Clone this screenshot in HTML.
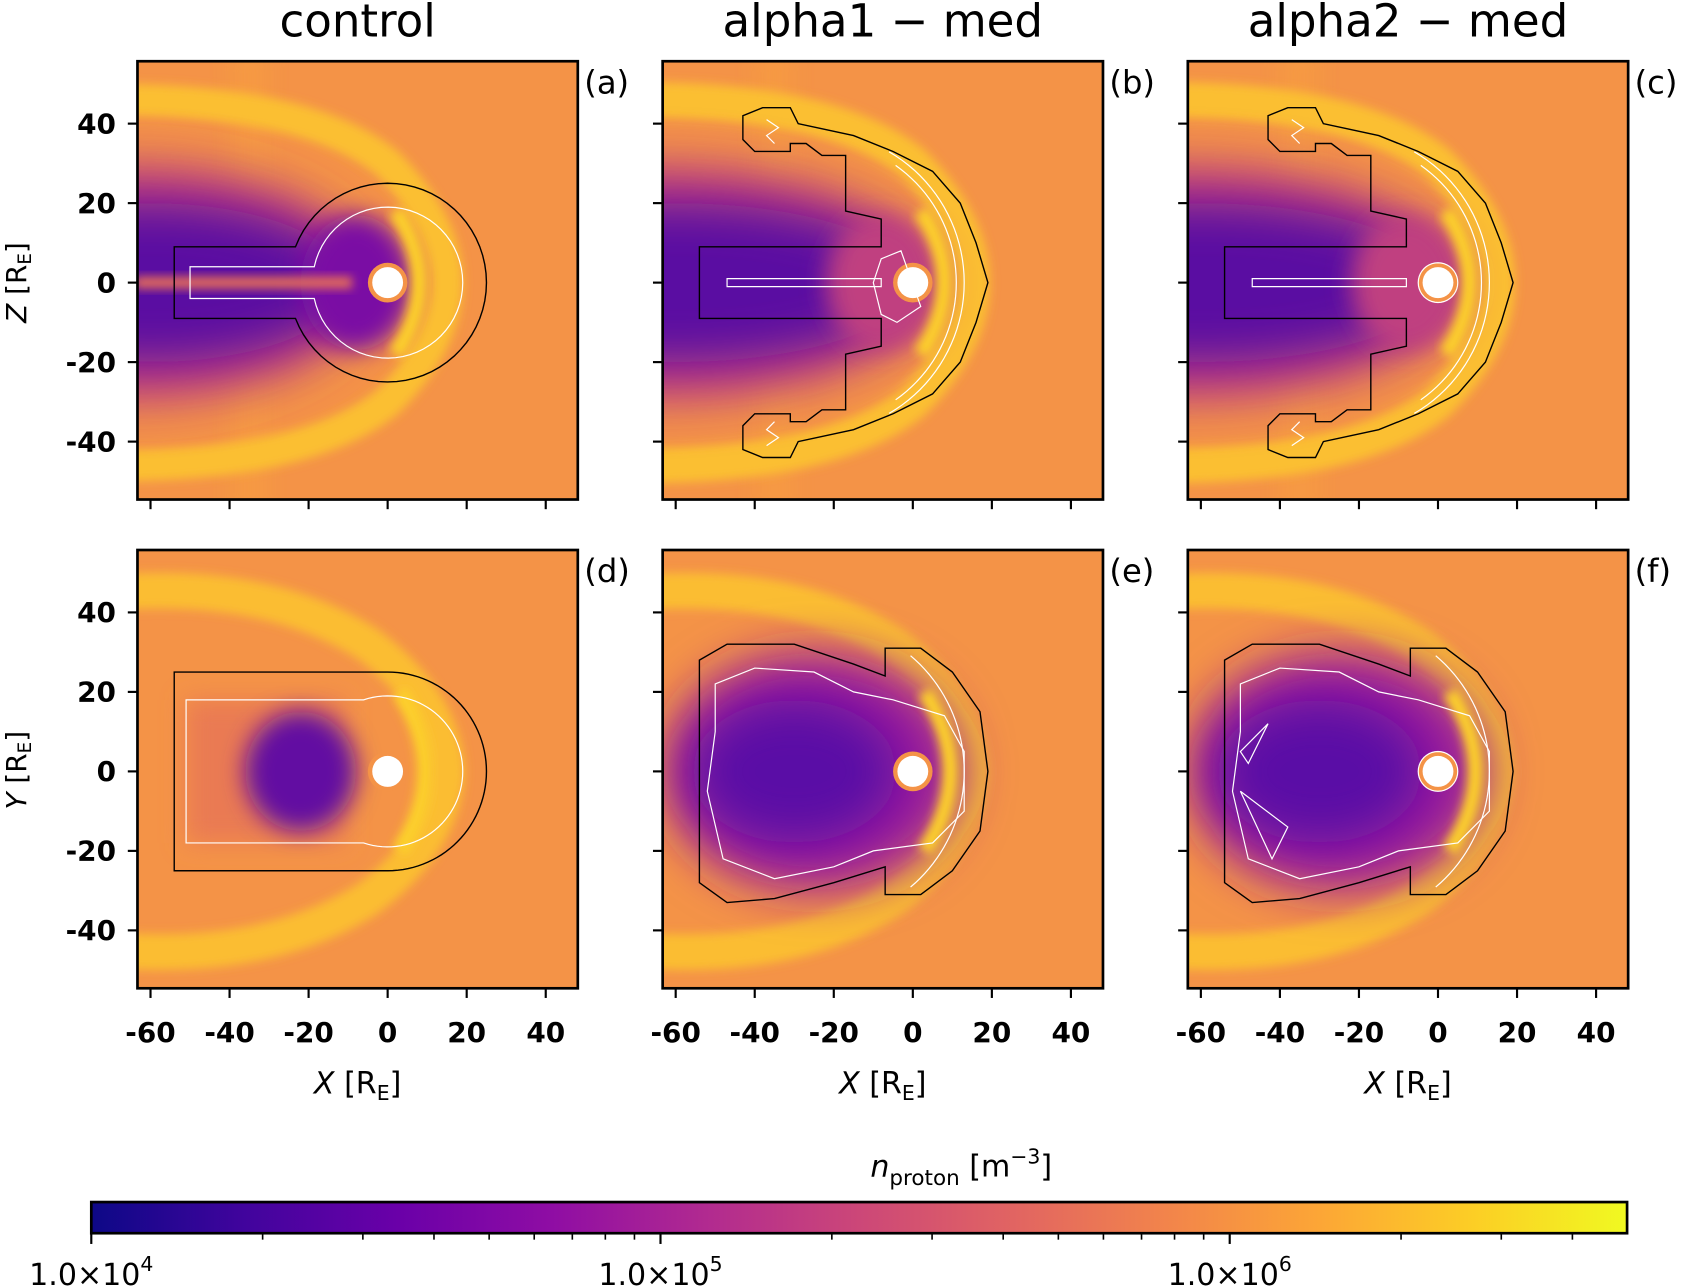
<!DOCTYPE html>
<html><head><meta charset="utf-8"><style>
html,body{margin:0;padding:0;background:#fff;}
svg{display:block;font-family:"DejaVu Sans","Liberation Sans",sans-serif;}
</style></head><body>
<svg id="fig" width="1684" height="1288" viewBox="0 0 1568 1199" preserveAspectRatio="none" xmlns="http://www.w3.org/2000/svg">
<defs>
<filter id="b1" x="-50%" y="-50%" width="200%" height="200%"><feGaussianBlur stdDeviation="1.2"/></filter>
<filter id="b3" x="-50%" y="-50%" width="200%" height="200%"><feGaussianBlur stdDeviation="3"/></filter>
<filter id="b6" x="-50%" y="-50%" width="200%" height="200%"><feGaussianBlur stdDeviation="6"/></filter>
<linearGradient id="plasma" x1="0" x2="1" y1="0" y2="0">
<stop offset="0" stop-color="#0d0887"/><stop offset="0.1" stop-color="#41049d"/><stop offset="0.2" stop-color="#6a00a8"/><stop offset="0.3" stop-color="#8f0da4"/><stop offset="0.4" stop-color="#b12a90"/><stop offset="0.5" stop-color="#cc4778"/><stop offset="0.6" stop-color="#e16462"/><stop offset="0.7" stop-color="#f2844b"/><stop offset="0.8" stop-color="#fca636"/><stop offset="0.9" stop-color="#fcce25"/><stop offset="1" stop-color="#f0f921"/>
</linearGradient>
</defs>
</svg>
<script>
const xTicks=[-60,-40,-20,0,20,40];
const yTicks=[40,20,0,-20,-40];
const cbarMajor=[4,5,6];
const cbarLabels=["1.0×10","1.0×10","1.0×10"];
const panelTitles=["control","alpha1 − med","alpha2 − med"];
const panelTags=["(a)","(b)","(c)","(d)","(e)","(f)"];
const NS="http://www.w3.org/2000/svg";
const svg=document.getElementById('fig');
function E(tag,attrs,parent){const e=document.createElementNS(NS,tag);for(const k in attrs)e.setAttribute(k,attrs[k]);(parent||svg).appendChild(e);return e;}
const colL=[128,617,1106],rowT=[57,512],PW=410,PH=408;
const XMIN=-63.3,YMAX=55.7,SX=3.68,SY=3.7;
function px(c,x){return colL[c]+(x-XMIN)*SX;}
function py(r,y){return rowT[r]+(YMAX-y)*SY;}
function pts(a){return a.map(p=>p[0]+','+p[1]).join(' ');}
function capsule(xl,hw,R){const xs=-Math.sqrt(R*R-hw*hw);const a0=Math.asin(hw/R);const p=[[xl,hw],[xs,hw]];for(let i=0;i<=60;i++){const t=Math.PI-a0-(Math.PI*2-2*a0)*i/60;p.push([R*Math.cos(t),R*Math.sin(t)]);}p.push([xl,-hw]);return p;}
function arcPts(cx,R,t0,t1){const p=[];for(let i=0;i<=40;i++){const t=(t0+(t1-t0)*i/40)*Math.PI/180;p.push([cx+R*Math.cos(t),R*Math.sin(t)]);}return p;}
function mirror(h){return h.concat(h.slice().reverse().map(p=>[p[0],-p[1]]));}

for(let r=0;r<2;r++)for(let c=0;c<3;c++){
  const i=r*3+c;
  const cp=E('clipPath',{id:'cp'+i});E('rect',{x:colL[c],y:rowT[r],width:PW,height:PH},cp);
  const outer=E('g',{'clip-path':'url(#cp'+i+')'});
  
  
  E('rect',{x:colL[c],y:rowT[r],width:PW,height:PH,fill:'#f49347'},outer);
  const g=E('g',{transform:`translate(${px(c,0)},${py(r,0)}) scale(${SX},${-SY})`},outer);
  if(r===0){
    E('rect',{x:-40,y:-60,width:10,height:120,fill:'#f8a040',opacity:0.5,filter:'url(#b3)'},g);
    E('path',{d:'M -70 46 Q -20 46 0 30 Q 15 15 15 0 Q 15 -15 0 -30 Q -20 -46 -70 -46',fill:'none',stroke:'#fbbf33',"stroke-width":c===0?8:9,filter:'url(#b1)'},g);
    E('ellipse',{cx:-65,cy:0,rx:c===0?60:70,ry:30,fill:'#c0407f',filter:'url(#b6)'},g);
    E('ellipse',{cx:-60,cy:0,rx:c===0?50:60,ry:20,fill:'#5a0aa2',filter:'url(#b6)'},g);
    E('ellipse',{cx:-8,cy:0,rx:14,ry:17,fill:c===0?'#7a10a4':'#c04080',filter:'url(#b3)'},g);
    E('path',{d:'M 2 -18 Q 14 0 2 18',fill:'none',stroke:'#fcd02a','stroke-width':4,filter:'url(#b1)'},g);
    if(c===0)E('rect',{x:-64,y:-1.5,width:55,height:3,fill:'#e46c5a',filter:'url(#b1)'},g);
  }else{
    E('path',{d:'M -70 45 Q -30 48 -5 32 Q 14 18 15 0 Q 14 -18 -5 -32 Q -30 -48 -70 -45',fill:'none',stroke:'#fbbd33','stroke-width':9,filter:'url(#b1)'},g);
    if(c===0){
      E('rect',{x:-51,y:-18,width:40,height:36,fill:'#ea7a52',filter:'url(#b3)'},g);
      E('ellipse',{cx:-22,cy:0,rx:14,ry:15,fill:'#6210a2',filter:'url(#b3)'},g);
    }else{
      E('ellipse',{cx:-25,cy:0,rx:38,ry:30,fill:'#9a1c9c',filter:'url(#b6)'},g);
      E('ellipse',{cx:-30,cy:0,rx:26,ry:18,fill:'#5a0aa6',filter:'url(#b6)'},g);
    }
    E('path',{d:'M 3 -20 Q 16 0 3 20',fill:'none',stroke:'#fcd02a','stroke-width':4,filter:'url(#b1)'},g);
  }
  E('circle',{cx:0,cy:0,r:5,fill:'#f49347'},g);
  const earth=E('circle',{cx:0,cy:0,r:3.9,fill:'#ffffff'},g);
  
  
  const lines=[];
  if(i===0){lines.push(['#000',capsule(-54,9,25)]);lines.push(['#fff',capsule(-50,4,19)]);}
  if(i===3){lines.push(['#000',capsule(-54,25,25)]);lines.push(['#fff',capsule(-51,18,19)]);}
  if(i===1||i===2){
    const h=[[-54,9],[-8,9],[-8,16],[-17,18],[-17,32],[-23,32],[-27,35],[-31,35],[-31,33],[-40,33],[-43,36],[-43,42],[-38,44],[-31,44],[-29,40],[-15,37],[-5,33],[5,28],[12,20],[16,10],[19,0]];
    lines.push(['#000',mirror(h)]);
    lines.push(['#fff',[[-47,1],[-8,1],[-8,-1],[-47,-1]]]);
    lines.push(['#fff',arcPts(-25,38,-60,60),true]);
    lines.push(['#fff',arcPts(-25,36,-55,55),true]);
    lines.push(['#fff',[[-37,41],[-34,39],[-37,37],[-35,35]],true]);
    lines.push(['#fff',[[-37,-41],[-34,-39],[-37,-37],[-35,-35]],true]);
    if(i===2)lines.push(['#fff',arcPts(0,5,0,360)]);
    else lines.push(['#fff',[[-8,-8],[-4,-10],[2,-6],[-3,8],[-8,6],[-10,0]]]);
  }
  if(i===4||i===5){
    lines.push(['#000',[[-54,28],[-47,32],[-30,32],[-15,27],[-7,24],[-7,31],[2,31],[10,25],[17,15],[19,0],[17,-15],[10,-25],[2,-31],[-7,-31],[-7,-24],[-20,-28],[-35,-32],[-47,-33],[-54,-28]]]);
    lines.push(['#fff',[[-50,22],[-40,26],[-25,25],[-15,20],[-5,18],[8,14],[13,5],[13,-10],[5,-18],[-10,-20],[-20,-24],[-35,-27],[-48,-22],[-52,-5],[-50,10]]]);
    lines.push(['#fff',arcPts(-25,38,-50,50),true]);
    if(i===5){lines.push(['#fff',arcPts(0,5,0,360)]);lines.push(['#fff',[[-50,-5],[-42,-22],[-38,-14]]]);lines.push(['#fff',[[-50,5],[-43,12],[-48,2]]]);}
  }
  lines.forEach((L,k)=>{
    const el=E(L[2]?'polyline':'polygon',{points:pts(L[1]),fill:'none',stroke:L[0],'stroke-width':L[0]==='#000'?1.4:1.2,'vector-effect':'non-scaling-stroke'},g);
    
    
  });
  const fr=E('rect',{x:colL[c],y:rowT[r],width:PW,height:PH,fill:'none',stroke:'#000','stroke-width':2.5});
  
  
  const tg=E('text',{x:colL[c]+PW+6,y:rowT[r]+30,'font-size':30});tg.textContent=panelTags[i];
  
  
  yTicks.forEach(v=>{
    E('line',{x1:colL[c],x2:colL[c]-9,y1:py(r,v),y2:py(r,v),stroke:'#000','stroke-width':2});
    if(c===0){const t=E('text',{x:colL[c]-20,y:py(r,v)+9,'font-size':26,'font-weight':'bold','text-anchor':'end'});t.textContent=String(v);
      
      }
  });
  xTicks.forEach(v=>{
    E('line',{x1:px(c,v),x2:px(c,v),y1:rowT[r]+PH,y2:rowT[r]+PH+9,stroke:'#000','stroke-width':2});
    if(r===1){const t=E('text',{x:px(c,v),y:rowT[r]+PH+50,'font-size':26,'font-weight':'bold','text-anchor':'middle'});t.textContent=v;
      
      }
  });
  if(r===1){const t=E('text',{x:colL[c]+PW/2,y:1018,'font-size':28,'text-anchor':'middle'});t.innerHTML='<tspan font-style="italic">X</tspan> [R<tspan font-size="19" dy="6">E</tspan><tspan dy="-6">]</tspan>';
    
    }
  if(r===0){const t=E('text',{x:colL[c]+PW/2,y:34,'font-size':42,'text-anchor':'middle'});t.textContent=panelTitles[c];
    
    }
}
[['Z',263],['Y',717]].forEach(a=>{
  const t=E('text',{transform:`translate(24,${a[1]}) rotate(-90)`,'font-size':26,'text-anchor':'middle'});
  t.innerHTML='<tspan font-style="italic">'+a[0]+'</tspan> [R<tspan font-size="17" dy="5">E</tspan><tspan dy="-5">]</tspan>';
  
  
});
// colorbar
const CB0=85,CB1=1515,CBY=1119,CBH=29,DEC=530;
function cx(lv){return CB0+(lv-4)*DEC;}
const cb=E('rect',{x:CB0,y:CBY,width:CB1-CB0,height:CBH,fill:'url(#plasma)',stroke:'#000','stroke-width':2.5});


for(let d=4;d<=6;d++)for(let m=2;m<=9;m++){const x=cx(d+Math.log10(m));if(x<CB1)E('line',{x1:x,x2:x,y1:CBY+CBH,y2:CBY+CBH+6,stroke:'#000','stroke-width':1.5});}
cbarMajor.forEach((e,k)=>{
  E('line',{x1:cx(e),x2:cx(e),y1:CBY+CBH,y2:CBY+CBH+10,stroke:'#000','stroke-width':2});
  const t=E('text',{x:cx(e),y:1196,'font-size':28,'text-anchor':'middle'});
  t.innerHTML=cbarLabels[k]+'<tspan font-size="19" dy="-13">'+e+'</tspan>';
  
  
});
const ct=E('text',{x:895,y:1095,'font-size':28,'text-anchor':'middle'});
ct.innerHTML='<tspan font-style="italic">n</tspan><tspan font-size="20" dy="8">proton</tspan><tspan dy="-8"> [m</tspan><tspan font-size="19" dy="-12">−3</tspan><tspan dy="12">]</tspan>';


</script>
</body></html>
